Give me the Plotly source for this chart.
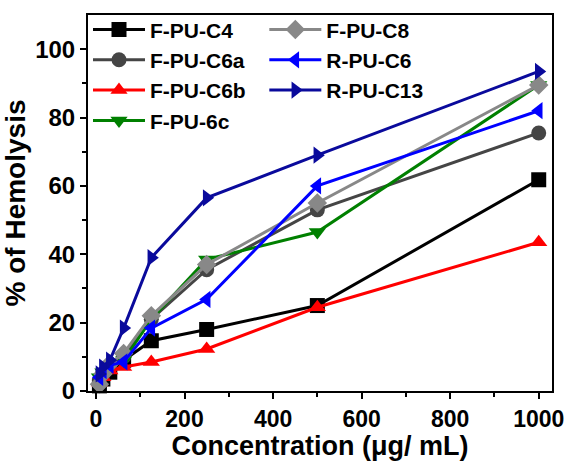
import plotly.graph_objects as go

conc = [7.8, 15.6, 31.25, 62.5, 125, 250, 500, 1000]

f_pu_c4 = [1.5, 3.5, 5.5, 9.0, 14.7, 18.0, 25.0, 61.8]
f_pu_c6a = [3.0, 5.0, 7.0, 10.0, 21.0, 35.5, 53.0, 75.5]
f_pu_c6b = [2.5, 4.0, 6.0, 7.0, 8.5, 12.3, 24.5, 43.5]
f_pu_6c = [4.0, 5.5, 7.0, 9.0, 21.0, 38.5, 46.5, 89.5]
f_pu_c8 = [2.0, 5.0, 8.0, 11.0, 22.0, 37.0, 55.0, 89.5]
r_pu_c6 = [4.0, 6.0, 7.5, 8.5, 18.4, 26.8, 60.0, 82.0]
r_pu_c13 = [5.0, 7.0, 9.0, 18.4, 39.0, 56.5, 69.0, 93.5]

series = [
    ("F-PU-C4", f_pu_c4, "#000000", "square", "legend"),
    ("F-PU-C6a", f_pu_c6a, "#454545", "circle", "legend"),
    ("F-PU-C6b", f_pu_c6b, "#ff0000", "triangle-up", "legend"),
    ("F-PU-6c", f_pu_6c, "#008000", "triangle-down", "legend"),
    ("F-PU-C8", f_pu_c8, "#888888", "diamond", "legend2"),
    ("R-PU-C6", r_pu_c6, "#0000ff", "triangle-left", "legend2"),
    ("R-PU-C13", r_pu_c13, "#0a0a9c", "triangle-right", "legend2"),
]

FONT = "Liberation Sans, Arial, sans-serif"

fig = go.Figure()
for name, vals, col, sym, leg in series:
    fig.add_trace(go.Scatter(
        x=conc, y=vals, name=name, mode="lines+markers",
        line=dict(color=col, width=3),
        marker=dict(symbol=sym, size=15, color=col),
        legend=leg, cliponaxis=False,
    ))

legend_common = dict(
    font=dict(family=FONT, size=21, color="#000000", weight="bold"),
    bgcolor="rgba(0,0,0,0)", borderwidth=0,
    itemwidth=52, tracegroupgap=0,
    xanchor="left", yanchor="top", yref="paper", xref="paper",
)

fig.update_layout(
    width=573, height=461,
    margin=dict(l=88, r=21, t=15, b=70, autoexpand=False),
    plot_bgcolor="white", paper_bgcolor="white",
    font=dict(family=FONT, color="#000000"),
    showlegend=True,
    legend=dict(x=0.0, y=1.015, **legend_common),
    legend2=dict(x=0.38, y=1.015, **legend_common),
    xaxis=dict(
        range=[-18, 1030], tickvals=[0, 200, 400, 600, 800, 1000],
        ticks="outside", ticklen=6, tickwidth=2, tickcolor="black",
        minor=dict(tickvals=[100, 300, 500, 700, 900], ticks="outside", ticklen=4, tickwidth=2, tickcolor="black"),
        showline=True, linewidth=2, linecolor="black", mirror=True,
        showgrid=False, zeroline=False, automargin=False,
        tickfont=dict(family=FONT, size=23, weight="bold"),
        title=dict(text="Concentration (μg/ mL)", font=dict(family=FONT, size=27, weight="bold"), standoff=4),
    ),
    yaxis=dict(
        range=[0, 110], tickvals=[0, 20, 40, 60, 80, 100],
        ticks="outside", ticklen=6, tickwidth=2, tickcolor="black",
        minor=dict(tickvals=[10, 30, 50, 70, 90], ticks="outside", ticklen=4, tickwidth=2, tickcolor="black"),
        showline=True, linewidth=2, linecolor="black", mirror=True,
        showgrid=False, zeroline=False, automargin=False,
        tickfont=dict(family=FONT, size=24, weight="bold"),
        title=dict(text="% of Hemolysis", font=dict(family=FONT, size=28, weight="bold"), standoff=2),
    ),
)

fig.write_html("out.html")
